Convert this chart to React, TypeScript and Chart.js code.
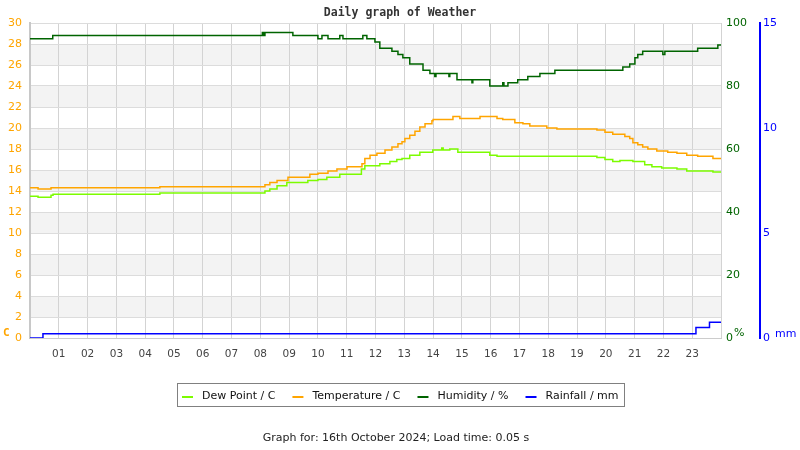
import React, { useEffect, useRef } from 'react';
import { Chart, registerables } from 'chart.js';

Chart.register(...registerables);

// ---- Data ----
const hourTickLabels = ['01','02','03','04','05','06','07','08','09','10','11','12','13','14','15','16','17','18','19','20','21','22','23'];

const dewTimes = [0, 0.28, 0.73, 0.8, 4.51, 8.16, 8.33, 8.58, 8.92, 9.65, 10.0, 10.31, 10.76, 11.51, 11.63, 12.15, 12.5, 12.74, 12.92, 13.19, 13.54, 13.99, 14.3, 14.35, 14.58, 14.86, 15.97, 16.22, 19.69, 19.97, 20.24, 20.49, 20.94, 21.35, 21.6, 21.94, 22.47, 22.81, 23.72, 24];
const dewValues = [13.5, 13.4, 13.6, 13.7, 13.8, 14.0, 14.2, 14.5, 14.8, 15.0, 15.1, 15.3, 15.6, 16.1, 16.4, 16.6, 16.8, 17.0, 17.1, 17.4, 17.7, 17.9, 18.1, 17.9, 18.0, 17.7, 17.4, 17.3, 17.2, 17.0, 16.8, 16.9, 16.8, 16.5, 16.3, 16.2, 16.1, 15.9, 15.8, 15.8];

const tempTimes = [0, 0.28, 0.73, 4.51, 8.16, 8.33, 8.58, 8.96, 9.72, 10.0, 10.35, 10.66, 11.01, 11.53, 11.63, 11.81, 12.05, 12.33, 12.57, 12.78, 12.92, 13.02, 13.19, 13.37, 13.54, 13.72, 13.96, 14.0, 14.69, 14.93, 15.63, 16.22, 16.42, 16.84, 17.12, 17.36, 17.95, 18.3, 19.69, 19.97, 20.24, 20.66, 20.83, 20.94, 21.11, 21.28, 21.46, 21.77, 22.15, 22.47, 22.81, 23.19, 23.72, 24];
const tempValues = [14.3, 14.2, 14.3, 14.4, 14.6, 14.8, 15.0, 15.3, 15.6, 15.7, 15.9, 16.1, 16.3, 16.6, 17.1, 17.4, 17.6, 17.9, 18.2, 18.5, 18.7, 19.0, 19.3, 19.7, 20.1, 20.4, 20.7, 20.8, 21.1, 20.9, 21.1, 20.9, 20.8, 20.5, 20.4, 20.2, 20.0, 19.9, 19.8, 19.6, 19.4, 19.2, 19.0, 18.6, 18.4, 18.2, 18.0, 17.8, 17.7, 17.6, 17.4, 17.3, 17.1, 17.1];

const humidityTimes = [0, 0.79, 8.07, 8.12, 8.16, 9.13, 10.0, 10.14, 10.35, 10.76, 10.87, 11.56, 11.70, 11.98, 12.15, 12.57, 12.78, 12.95, 13.19, 13.65, 13.89, 14.06, 14.1, 14.55, 14.58, 14.83, 15.35, 15.38, 15.97, 16.42, 16.46, 16.6, 16.94, 17.29, 17.71, 18.23, 20.59, 20.83, 21.01, 21.11, 21.28, 21.98, 22.05, 23.19, 23.89, 24];
const humidityValues = [95, 96, 97, 96, 97, 96, 95, 96, 95, 96, 95, 96, 95, 94, 92, 91, 90, 89, 87, 85, 84, 83, 84, 83, 84, 82, 81, 82, 80, 81, 80, 81, 82, 83, 84, 85, 86, 87, 89, 90, 91, 90, 91, 92, 93, 93];

const rainTimes = [0, 0.45, 23.13, 23.6, 24];
const rainValues = [0, 0.2, 0.5, 0.75, 0.75];

const seriesLabels = ['Dew Point / C', 'Temperature / C', 'Humidity / %', 'Rainfall / mm'];
const titleText = 'Daily graph of Weather';
const footerText = 'Graph for: 16th October 2024; Load time: 0.05 s';

const toPoints = (t: number[], v: number[]) => t.map((x, i) => ({ x, y: v[i] }));

const FONT = 'DejaVu Sans';

const decorPlugin = {
  id: 'decor',
  beforeDraw(chart: any) {
    const { ctx, chartArea } = chart;
    const y = chart.scales.y;
    ctx.save();
    ctx.fillStyle = '#f3f3f3';
    for (let v = 2; v < 30; v += 4) {
      const top = y.getPixelForValue(v + 2);
      const bot = y.getPixelForValue(v);
      ctx.fillRect(chartArea.left, top, chartArea.right - chartArea.left, bot - top);
    }
    ctx.restore();
  },
  afterDraw(chart: any) {
    const { ctx } = chart;
    ctx.save();
    // title
    ctx.font = `bold 11.5px "DejaVu Sans Mono"`;
    ctx.fillStyle = '#333';
    ctx.textAlign = 'center';
    ctx.textBaseline = 'middle';
    ctx.fillText(titleText, 400, 13);

    // unit labels
    ctx.font = `bold 11px "DejaVu Sans Mono"`;
    ctx.fillStyle = '#ffa500';
    ctx.textAlign = 'left';
    ctx.fillText('C', 3, 333);
    ctx.font = `11px "${FONT}"`;
    ctx.fillStyle = '#006400';
    ctx.fillText('%', 734, 333);
    ctx.fillStyle = '#0000ff';
    ctx.fillText('mm', 775, 334);

    // legend
    const items = chart.data.datasets.map((ds: any) => ({ label: ds.label, color: ds.borderColor }));
    ctx.font = `11px "${FONT}"`;
    const widths = items.map((it: any) => ctx.measureText(it.label).width);
    const gap = 17;
    const total = 5 + widths.reduce((a: number, w: number) => a + 20 + w, 0) + gap * (items.length - 1) + 5;
    const bx = Math.round(400.5 - total / 2);
    ctx.strokeStyle = '#808080';
    ctx.lineWidth = 1;
    ctx.strokeRect(bx + 0.5, 383.5, Math.round(total), 23);
    let cx = bx + 5;
    items.forEach((it: any, i: number) => {
      ctx.fillStyle = it.color;
      ctx.fillRect(cx, 396, 11, 2);
      ctx.fillStyle = '#111';
      ctx.textAlign = 'left';
      ctx.textBaseline = 'middle';
      ctx.fillText(it.label, cx + 20, 396);
      cx += 20 + widths[i] + gap;
    });

    // footer
    ctx.fillStyle = '#222';
    ctx.textAlign = 'center';
    ctx.fillText(footerText, 396, 438);
    ctx.restore();
  },
};

export default function App() {
  const ref = useRef<HTMLCanvasElement | null>(null);
  useEffect(() => {
    if (!ref.current) return;
    const lineCommon = { pointRadius: 0, borderWidth: 1.5, stepped: true as any, fill: false, tension: 0 };
    const chart = new Chart(ref.current, {
      type: 'line',
      data: {
        datasets: [
          { label: seriesLabels[0], data: toPoints(dewTimes, dewValues), borderColor: '#7cfc00', backgroundColor: '#7cfc00', yAxisID: 'y', ...lineCommon },
          { label: seriesLabels[1], data: toPoints(tempTimes, tempValues), borderColor: '#ffa500', backgroundColor: '#ffa500', yAxisID: 'y', ...lineCommon },
          { label: seriesLabels[2], data: toPoints(humidityTimes, humidityValues), borderColor: '#006400', backgroundColor: '#006400', yAxisID: 'y1', ...lineCommon },
          { label: seriesLabels[3], data: toPoints(rainTimes, rainValues), borderColor: '#0000ff', backgroundColor: '#0000ff', yAxisID: 'y2', ...lineCommon },
        ],
      },
      options: {
        animation: false,
        responsive: false,
        layout: { padding: { top: 23, bottom: 82, left: 0, right: 0 } },
        plugins: { legend: { display: false }, title: { display: false }, tooltip: { enabled: false } },
        scales: {
          x: {
            type: 'linear', min: 0, max: 24, position: 'bottom',
            ticks: {
              stepSize: 1, autoSkip: false, maxRotation: 0, color: '#444', padding: 10,
              font: { family: FONT, size: 10.5 },
              callback: (v: any) => hourTickLabels[Number(v) - 1] ?? '',
            },
            grid: { color: '#d3d3d3', drawTicks: false },
            border: { color: '#cccccc', width: 1 },
            afterFit: (s: any) => { s.height = 30; },
          },
          y: {
            position: 'left', min: 0, max: 30,
            ticks: { stepSize: 2, color: '#ffa500', padding: 8, font: { family: FONT, size: 11 } },
            grid: { color: '#dcdcdc', drawTicks: false },
            border: { color: '#c8c8c8', width: 2 },
            afterFit: (s: any) => { s.width = 30; },
          },
          y1: {
            position: 'right', min: 0, max: 100,
            ticks: { stepSize: 20, color: '#006400', padding: 5, font: { family: FONT, size: 11 } },
            grid: { display: false, drawTicks: false },
            border: { display: false },
            afterFit: (s: any) => { s.width = 39; },
          },
          y2: {
            position: 'right', min: 0, max: 15,
            ticks: { stepSize: 5, color: '#0000ff', padding: 3, font: { family: FONT, size: 11 } },
            grid: { display: false, drawTicks: false },
            border: { display: true, color: '#0000ff', width: 2 },
            afterFit: (s: any) => { s.width = 40; },
          },
        },
      } as any,
      plugins: [decorPlugin],
    });
    return () => chart.destroy();
  }, []);
  return (
    <div style={{ position: 'absolute', left: 0, top: 0, width: 800, height: 450, background: '#fff' }}>
      <canvas ref={ref} width={800} height={450} />
    </div>
  );
}
